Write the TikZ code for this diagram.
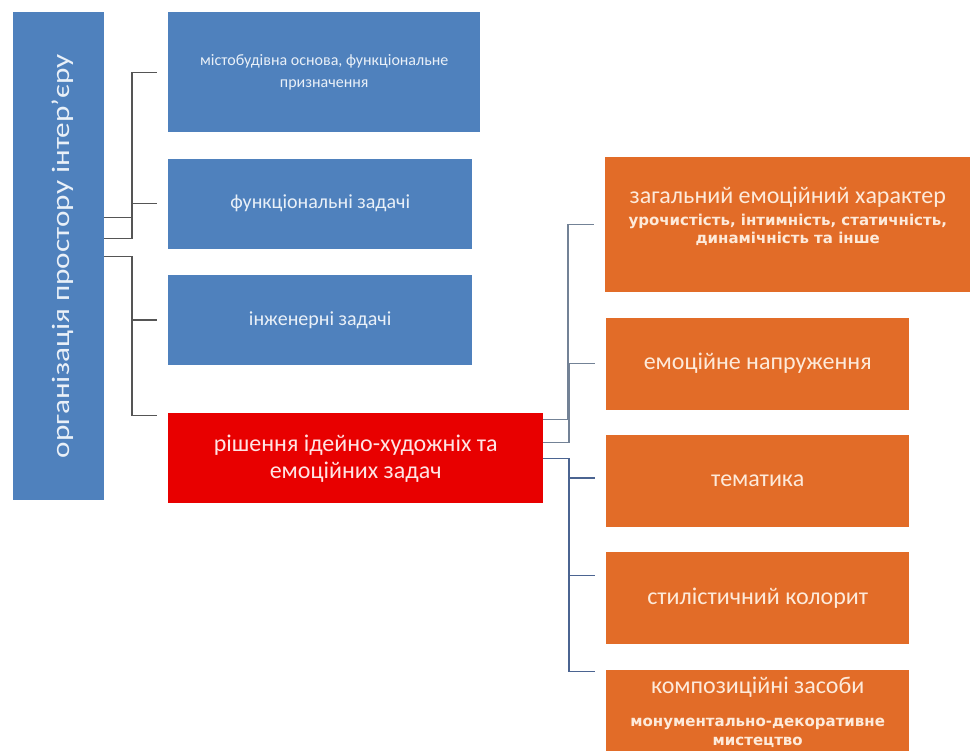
\documentclass[tikz,border=0pt]{standalone}
\usepackage{fontspec}
\setmainfont{Carlito}
\newfontfamily\subfont{DejaVu Sans}
\usetikzlibrary{positioning}

\definecolor{boxblue}{RGB}{79,129,189}
\definecolor{boxorange}{RGB}{226,108,40}
\definecolor{boxred}{RGB}{232,0,0}
\definecolor{txtblue}{RGB}{233,240,248}
\definecolor{txtorange}{RGB}{253,234,218}
\definecolor{txtred}{RGB}{255,228,228}
\definecolor{linegray}{RGB}{85,85,85}
\definecolor{lineslate}{RGB}{115,130,150}
\definecolor{linedeep}{RGB}{75,100,145}

\newcommand{\subtext}[3]{\parbox[t]{#1}{\centering\subfont\bfseries\fontsize{15}{#2}\selectfont #3}}

\begin{document}
\begin{tikzpicture}[x=1pt,y=-1pt,
  root node/.style={rectangle,fill=boxblue,text=txtblue,inner sep=0pt,anchor=north west,
    minimum width=91pt,minimum height=488pt},
  blue node/.style={rectangle,fill=boxblue,text=txtblue,inner sep=0pt,align=center,
    minimum width=304pt,minimum height=90pt,font=\fontsize{20}{24}\selectfont},
  red node/.style={rectangle,fill=boxred,text=txtred,inner sep=0pt,align=center,
    minimum width=375pt,minimum height=90pt,font=\fontsize{24}{27}\selectfont},
  orange node/.style={rectangle,fill=boxorange,text=txtorange,inner sep=0pt,align=center,
    minimum width=303pt,minimum height=92pt,font=\fontsize{24}{28}\selectfont},
  gray line/.style={draw=linegray,line width=1.3pt},
  slate line/.style={draw=lineslate,line width=1.3pt},
  deep line/.style={draw=linedeep,line width=1.3pt}]

  \clip (0,0) rectangle (976,751);
  \fill[white] (0,0) rectangle (976,751);

  % left column
  \node[root node] (org) at (13,12) {};
  \node[rotate=90,text=txtblue,font=\fontsize{25}{30}\selectfont] (orgtext) at ([xshift=4pt]org.center)
    {\scalebox{1.25}[1]{організація простору інтер'єру}};

  \node[blue node,anchor=north west,minimum width=312pt,minimum height=120pt,
    font=\fontsize{16}{22}\selectfont] (b1) at (168,12) {містобудівна основа, функціональне\\призначення};
  \node[blue node] (b2) [below right=26pt and 0pt of b1.south west] {функціональні задачі};
  \node[blue node] (b3) [below right=26pt and 0pt of b2.south west] {інженерні задачі};
  \node[red node] (b4) [below right=48pt and 0pt of b3.south west] {рішення ідейно-художніх та\\емоційних задач};

  % right column
  \node[orange node,anchor=north west,minimum width=365pt,minimum height=135pt] (o1) at (605,157)
    {загальний емоційний характер\\[-6pt]\subtext{350pt}{17.5}{урочистість, інтимність, статичність,\\динамічність та інше}\\[8pt]};
  \node[orange node] (o2) [below right=25pt and 1pt of o1.south west] {емоційне напруження};
  \node[orange node] (o3) [below right=25pt and 0pt of o2.south west] {тематика};
  \node[orange node] (o4) [below right=25pt and 0pt of o3.south west] {стилістичний колорит};
  \node[orange node,minimum height=84pt] (o5) [below right=25pt and 0pt of o4.south west]
    {композиційні засоби\\[5pt]\subtext{300pt}{19}{монументально-декоративне\\мистецтво}};

  % connectors, left
  \draw[gray line] ([yshift=39pt]org.east) -| ([xshift=-36pt]b1.west) -- ([xshift=-11pt]b1.west);
  \draw[gray line] ([yshift=18pt]org.east) -| ([xshift=-36pt]b2.west) -- ([xshift=-11pt]b2.west);
  \draw[gray line] (org.east) -| ([xshift=-36pt]b3.west) -- ([xshift=-11pt]b3.west);
  \draw[gray line] (org.east) -| ([xshift=-36pt,yshift=-2pt]b4.north west) -- ([xshift=-11pt,yshift=-2pt]b4.north west);

  % connectors, right
  \draw[slate line] ([yshift=39pt]b4.east) -| ([xshift=-37pt]o1.west) -- ([xshift=-11pt]o1.west);
  \draw[slate line] ([yshift=16pt]b4.east) -| ([xshift=-37pt]o2.west) -- ([xshift=-11pt]o2.west);
  \draw[deep line] (b4.east) -| ([xshift=-37pt,yshift=3pt]o3.west) -- ([xshift=-11pt,yshift=3pt]o3.west);
  \draw[deep line] (b4.east) -| ([xshift=-37pt,yshift=23pt]o4.west) -- ([xshift=-11pt,yshift=23pt]o4.west);
  \draw[deep line] (b4.east) -| ([xshift=-37pt,yshift=-2pt]o5.north west) -- ([xshift=-11pt,yshift=-2pt]o5.north west);

\end{tikzpicture}
\end{document}
